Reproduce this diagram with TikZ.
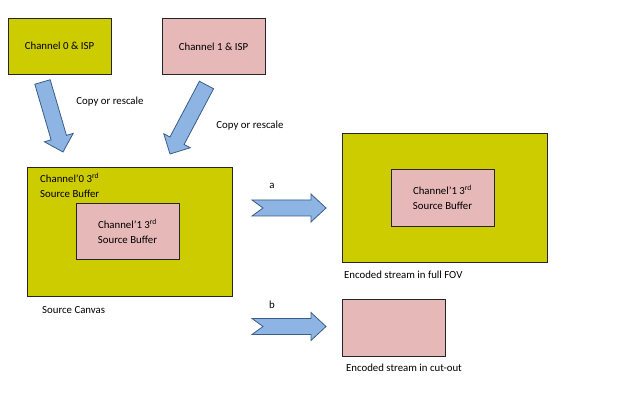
\documentclass[tikz,border=0pt]{standalone}
\usepackage{fontspec}
\setmainfont{Carlito}
\usetikzlibrary{calc}

\definecolor{olive}{RGB}{204,204,0}
\definecolor{rose}{RGB}{230,184,183}
\definecolor{arrowblue}{RGB}{141,180,226}
\definecolor{arrowline}{RGB}{56,93,138}

% block arrow: #1 notch depth, #2 tail, #3 tip
\newcommand\fatarrow[3]{%
    \path ($(#3)!\headLen!(#2)$) coordinate (hb);
    \draw[fatarrow] ($(#2)!\bodyW!90:(#3)$) -- ($(hb)!\bodyW!-90:(#2)$)
        -- ($(hb)!\headW!-90:(#2)$) -- (#3) -- ($(hb)!\headW!90:(#2)$)
        -- ($(hb)!\bodyW!90:(#2)$) -- ($(#2)!\bodyW!-90:(#3)$)
        -- ($(#2)!#1!(#3)$) -- cycle;
}

\begin{document}
\begin{tikzpicture}[x=1pt, y=-1pt,
    box/.style={draw=black!85, line width=0.8pt, minimum width=103pt, minimum height=56pt, inner sep=0pt},
    bigbox/.style={box, fill=olive, minimum width=205pt, minimum height=129pt},
    fatarrow/.style={draw=arrowline, fill=arrowblue, line width=0.8pt, line join=miter},
    lbl/.style={inner sep=0pt, align=left},
    every node/.style={font=\fontsize{10.8}{15}\selectfont}]
        % Sizes of the block arrows
        \def\bodyW{8pt}
        \def\headW{15pt}
        \def\headLen{15pt}

        \useasboundingbox (0,0) rectangle (619,409);

        % Channels
        \node[box, fill=olive] (ch0) at (59.5,46) {Channel 0 \& ISP};
        \node[box, fill=rose] (ch1) at (213.5,46.5) {Channel 1 \& ISP};

        % Source canvas
        \node[bigbox] (canvas) at (129.5,231.5) {};
        \node[lbl, anchor=west] (buf0) at (40,185.5) {Channel’0 3\textsuperscript{rd}\\Source Buffer};
        \node[box, fill=rose, align=center] (buf1) at (127.5,231) {Channel’1 3\textsuperscript{rd}\\Source Buffer};
        \node[lbl, anchor=west] (canvaslbl) at (42,310) {Source Canvas};

        % Full FOV output
        \node[bigbox] (fov) at (444.5,197.5) {};
        \node[box, fill=rose, align=center, minimum height=57pt] (fovbuf) at (442.5,197.5) {Channel’1 3\textsuperscript{rd}\\Source Buffer};
        \node[lbl, anchor=west] (fovlbl) at (344,275) {Encoded stream in full FOV};

        % Cut-out output
        \node[box, fill=rose, minimum height=57pt] (cut) at (393.5,327.5) {};
        \node[lbl, anchor=west] (cutlbl) at (346,368) {Encoded stream in cut-out};

        % Copy arrows
        \coordinate (c0s) at (42.5,82);
        \coordinate (c0t) at (63,152);
        \coordinate (c1s) at (206.5,85);
        \coordinate (c1t) at (170,154);
        \fatarrow{0pt}{c0s}{c0t}
        \fatarrow{0pt}{c1s}{c1t}
        \node[lbl] (copy0) at (110,102) {Copy or rescale};
        \node[lbl] (copy1) at (250,126) {Copy or rescale};

        % Encode arrows
        \coordinate (as) at (252,208);
        \coordinate (at) at (326,208);
        \coordinate (bs) at (252,326.5);
        \coordinate (bt) at (326,326.5);
        \begingroup\def\headW{14pt}
        \fatarrow{11pt}{as}{at}
        \fatarrow{11pt}{bs}{bt}
        \endgroup
        \node[lbl] (alabel) at (272,186) {a};
        \node[lbl] (blabel) at (272,305) {b};

    \end{tikzpicture}
\end{document}
